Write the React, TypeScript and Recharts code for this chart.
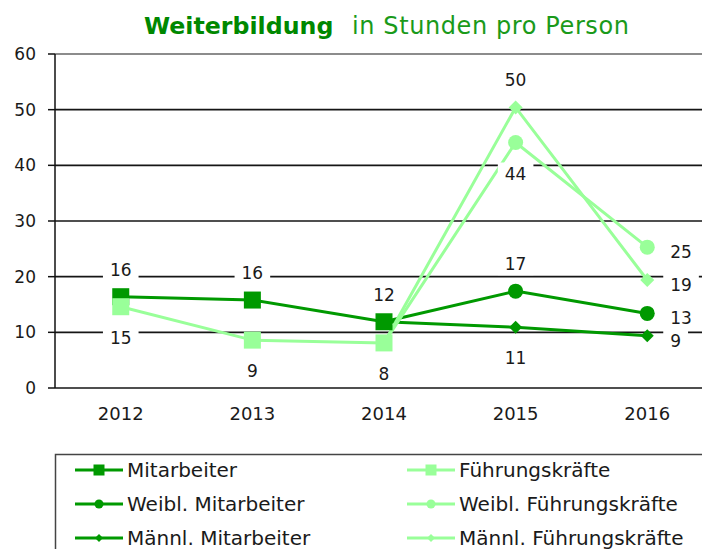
import React from 'react';
import { LineChart, Line, XAxis, YAxis, CartesianGrid, ReferenceLine, LabelList } from 'recharts';

// values per year (rounded labels are shown)
const years = ['2012', '2013', '2014', '2015', '2016'];
const mitarbeiter = [16.4, 15.8, 11.9, null, null];
const fuehrungskraefte = [14.6, 8.6, 8.1, null, null];
const weiblMitarbeiter = [null, null, 11.9, 17.4, 13.4];
const maennlMitarbeiter = [null, null, 11.9, 10.9, 9.4];
const weiblFuehrung = [null, null, 8.1, 44.1, 25.3];
const maennlFuehrung = [null, null, 8.1, 50.4, 19.4];

const yTicks = [0, 10, 20, 30, 40, 50, 60];
const boundaryTicks = [0, 1, 2, 3, 4, 5];

const DARK = '#009900';
const LIGHT = '#99ff99';
const FONT = "'DejaVu Sans', Verdana, sans-serif";

type Pos = 'top' | 'bottom' | 'right' | null;

interface SeriesDef {
  key: string;
  name: string;
  color: string;
  shape: 'square' | 'circle' | 'diamond';
  size: number;
  split: boolean;
  labels: Pos[];
}

const series: SeriesDef[] = [
  { key: 'ma', name: 'Mitarbeiter', color: DARK, shape: 'square', size: 17, split: false, labels: ['top', 'top', 'top', null, null] },
  { key: 'wma', name: 'Weibl. Mitarbeiter', color: DARK, shape: 'circle', size: 15, split: true, labels: [null, null, null, 'top', 'right'] },
  { key: 'mma', name: 'Männl. Mitarbeiter', color: DARK, shape: 'diamond', size: 13, split: true, labels: [null, null, null, 'bottom', 'right'] },
  { key: 'fk', name: 'Führungskräfte', color: LIGHT, shape: 'square', size: 17, split: false, labels: ['bottom', 'bottom', 'bottom', null, null] },
  { key: 'wfk', name: 'Weibl. Führungskräfte', color: LIGHT, shape: 'circle', size: 15, split: true, labels: [null, null, null, 'bottom', 'right'] },
  { key: 'mfk', name: 'Männl. Führungskräfte', color: LIGHT, shape: 'diamond', size: 14, split: true, labels: [null, null, null, 'top', 'right'] },
];

const data = years.map((year, i) => ({
  year,
  ma: mitarbeiter[i],
  fk: fuehrungskraefte[i],
  wma: weiblMitarbeiter[i],
  mma: maennlMitarbeiter[i],
  wfk: weiblFuehrung[i],
  mfk: maennlFuehrung[i],
}));

const marker = (shape: string, size: number, color: string, cx: number, cy: number, key?: string) => {
  const h = size / 2;
  if (shape === 'square') {
    return <rect key={key} x={cx - h} y={cy - h} width={size} height={size} fill={color} />;
  }
  if (shape === 'circle') {
    return <circle key={key} cx={cx} cy={cy} r={h} fill={color} />;
  }
  return (
    <polygon
      key={key}
      points={`${cx},${cy - h} ${cx + h},${cy} ${cx},${cy + h} ${cx - h},${cy}`}
      fill={color}
    />
  );
};

const makeDot = (s: SeriesDef) => (props: any) => {
  const { cx, cy, index, value } = props;
  const k = `dot-${s.key}-${index}`;
  if (cx == null || cy == null || value == null || (s.split && index === 2)) return <g key={k} />;
  return marker(s.shape, s.size, s.color, cx, cy, k);
};

const makeLabel = (s: SeriesDef) => (props: any) => {
  const { index, value } = props;
  const x = props.x ?? props.viewBox?.x;
  const y = props.y ?? props.viewBox?.y;
  const pos = s.labels[index];
  if (!pos || value == null || x == null || y == null) return null;
  const text = String(Math.round(Number(value)));
  const tw = text.length * 10.8;
  const w = tw + 14;
  let cx = x;
  let cy = y;
  if (pos === 'top') cy = y - 27;
  else if (pos === 'bottom') cy = y + 31;
  else {
    cx = x + 23 + tw / 2;
    cy = y + 5;
  }
  return (
    <g key={`lbl-${s.key}-${index}`}>
      <rect x={cx - w / 2} y={cy - 11} width={w} height={22} fill="#ffffff" />
      <text
        x={cx}
        y={cy}
        textAnchor="middle"
        dominantBaseline="central"
        fontSize={17}
        fontFamily={FONT}
        fill="#1a1a1a"
      >
        {text}
      </text>
    </g>
  );
};

const legendCols = [
  ['ma', 'wma', 'mma'],
  ['fk', 'wfk', 'mfk'],
];

const ChartLegend: React.FC = () => (
  <g>
    <rect x={55.5} y={454.5} width={700} height={200} fill="#fff" stroke="#444" strokeWidth={1.5} />
    {legendCols.map((col, ci) =>
      col.map((key, ri) => {
        const s = series.find((d) => d.key === key)!;
        const x0 = ci === 0 ? 75 : 407;
        const y0 = 470 + ri * 34;
        const msize = s.shape === 'square' ? 11 : s.shape === 'circle' ? 9 : 8;
        return (
          <g key={key}>
            <line x1={x0} x2={x0 + 48} y1={y0} y2={y0} stroke={s.color} strokeWidth={3} />
            {marker(s.shape, msize, s.color, x0 + 24, y0)}
            <text x={x0 + 52} y={y0 + 7} fontSize={20} fontFamily={FONT} fill="#1a1a1a">
              {s.name}
            </text>
          </g>
        );
      })
    )}
  </g>
);

const App: React.FC = () => {
  return (
    <div style={{ position: 'absolute', left: 0, top: 0, width: 702, height: 549, overflow: 'hidden', background: '#fff' }}>
      <LineChart width={720} height={549} data={data} margin={{ top: 54, right: 7, bottom: 121, left: 0 }}>
        <CartesianGrid vertical={false} stroke="#151515" strokeWidth={1.6} />
        <ReferenceLine y={60} stroke="#a0a0a0" strokeWidth={1.5} />
        <YAxis
          width={55}
          domain={[0, 60]}
          ticks={yTicks}
          interval={0}
          tickSize={7}
          tickMargin={12}
          axisLine={{ stroke: '#111', strokeWidth: 1.5 }}
          tickLine={{ stroke: '#111', strokeWidth: 1.5 }}
          tick={{ fill: '#1a1a1a', fontSize: 17, fontFamily: FONT }}
        />
        {/* tick marks between the categories */}
        <XAxis
          xAxisId="bounds"
          type="number"
          domain={[0, 5]}
          ticks={boundaryTicks}
          allowDataOverflow
          height={0}
          tick={false}
          tickSize={7}
          axisLine={{ stroke: '#111', strokeWidth: 1.5 }}
          tickLine={{ stroke: '#111', strokeWidth: 1.5 }}
        />
        <XAxis
          dataKey="year"
          scale="point"
          padding={{ left: 65.75, right: 65.75 }}
          height={40}
          axisLine={false}
          tickLine={false}
          tickSize={0}
          tickMargin={19}
          interval={0}
          tick={{ fill: '#1a1a1a', fontSize: 18, fontFamily: FONT }}
        />
        {series.map((s) => (
          <Line
            key={s.key}
            dataKey={s.key}
            name={s.name}
            type="linear"
            stroke={s.color}
            strokeWidth={3}
            dot={makeDot(s)}
            activeDot={false}
            isAnimationActive={false}
          />
        ))}
        {/* labels on top of every line */}
        {series.map((s) => (
          <Line
            key={`${s.key}-labels`}
            dataKey={s.key}
            stroke="none"
            dot={false}
            activeDot={false}
            legendType="none"
            isAnimationActive={false}
          >
            <LabelList dataKey={s.key} content={makeLabel(s)} />
          </Line>
        ))}
      </LineChart>
      <svg width={702} height={549} style={{ position: 'absolute', left: 0, top: 0, pointerEvents: 'none' }}>
        <text x={144} y={34} fontSize={23.7} fontWeight="bold" fontFamily={FONT} fill="#008800">
          Weiterbildung
        </text>
        <text x={352} y={34} fontSize={24} letterSpacing={0.6} fontFamily={FONT} fill="#1a9a1a">
          in Stunden pro Person
        </text>
        <ChartLegend />
      </svg>
    </div>
  );
};

export default App;
